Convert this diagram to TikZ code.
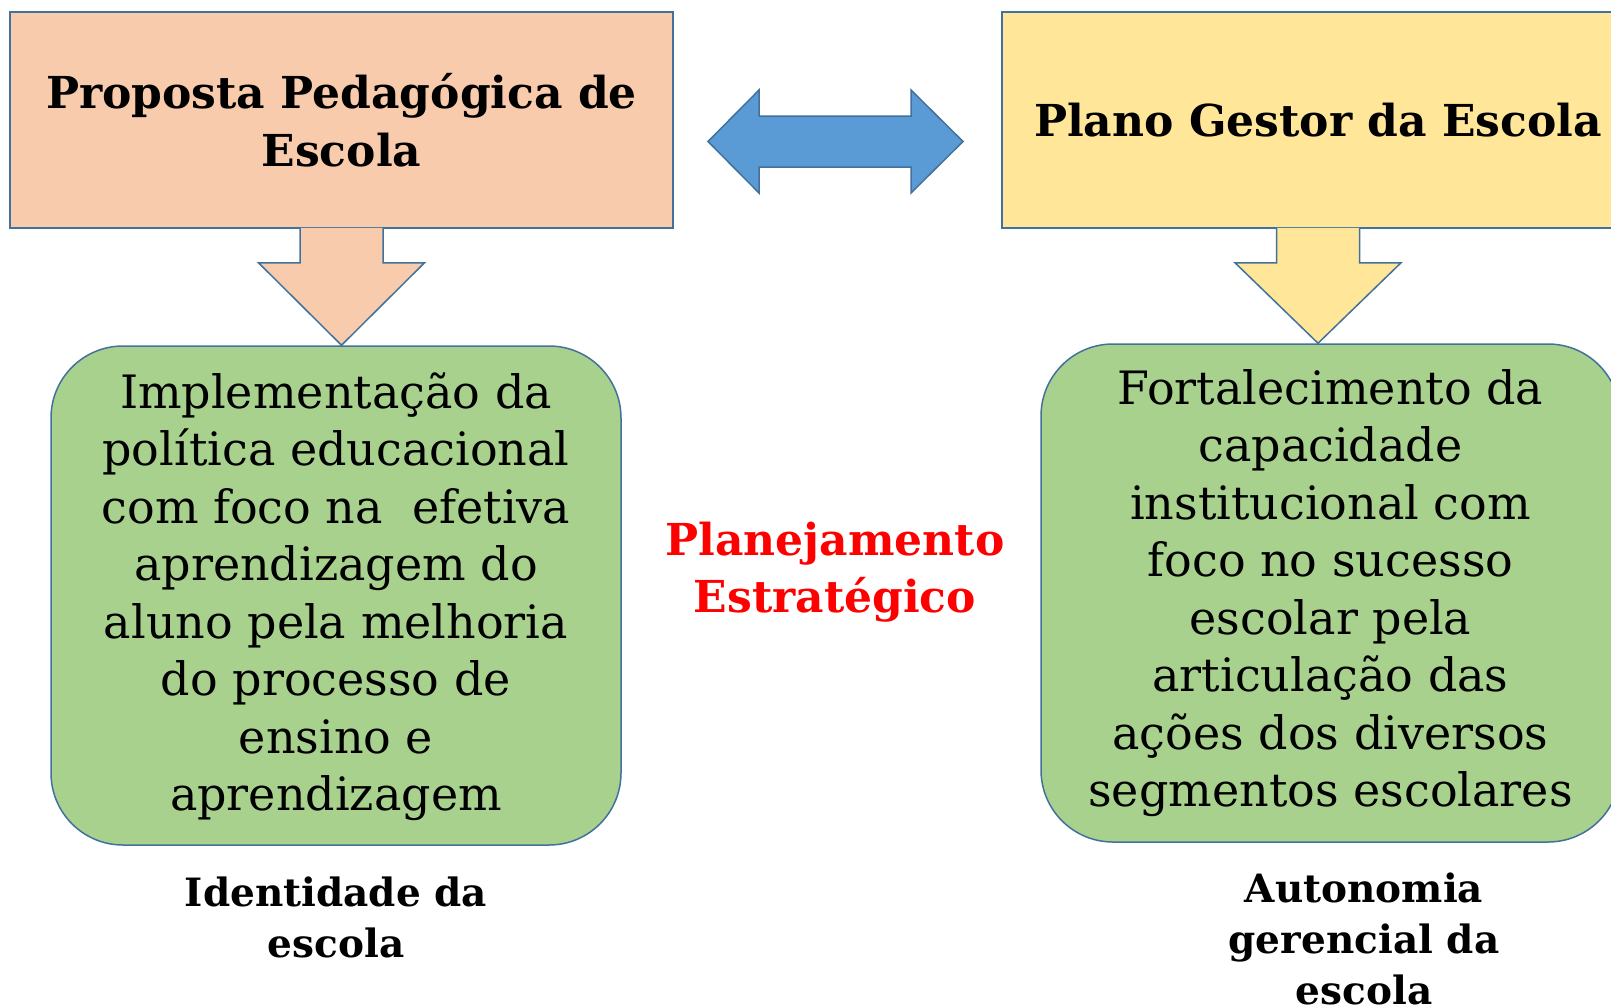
\documentclass[tikz,border=0pt]{standalone}
\usepackage{fontspec}
\setmainfont{DejaVu Serif}
\usetikzlibrary{calc}
\definecolor{peach}{HTML}{F8CBAD}
\definecolor{sand}{HTML}{FFE699}
\definecolor{leaf}{HTML}{A9D18E}
\definecolor{sky}{HTML}{5B9BD5}
\definecolor{edgeblue}{HTML}{41719C}
\tikzset{
  headbox/.style={draw=edgeblue, line width=0.75pt, inner sep=0pt, align=center,
    font=\bfseries\fontsize{22}{29.25}\selectfont},
  bodybox/.style={draw=edgeblue, line width=0.75pt, fill=leaf, inner sep=0pt,
    align=center, rounded corners=36pt, font=\fontsize{23}{28.75}\selectfont},
  blockarrow/.style={draw=edgeblue, line width=0.75pt, line join=miter},
  caption/.style={align=center, font=\bfseries\fontsize{19.5}{25.5}\selectfont}
}
\begin{document}
\begin{tikzpicture}[x=0.5pt, y=-0.5pt]
  \clip (0,0) rectangle (1611,1007);
  \fill[white] (0,0) rectangle (1611,1007);
  % top boxes
  \node[headbox, fill=peach, minimum width=331.5pt, minimum height=108pt] (LT) at (341.5,120)
    {Proposta Pedagógica de\\Escola};
  \node[headbox, fill=sand, minimum width=316pt, minimum height=108pt] (RT) at (1318,120)
    {Plano Gestor da Escola};
  % green boxes
  \node[bodybox, minimum width=285pt, minimum height=249.5pt, text depth=4pt] (LG) at (336,595.5)
    {Implementação da\\política educacional\\com foco na\ \ efetiva\\aprendizagem do\\aluno pela melhoria\\do processo de\\ensino e\\aprendizagem};
  \node[bodybox, minimum width=289.5pt, minimum height=249pt] (RG) at (1330.5,593)
    {Fortalecimento da\\capacidade\\institucional com\\foco no sucesso\\escolar pela\\articulação das\\ações dos diversos\\segmentos escolares};
  % down arrows
  \draw[blockarrow, fill=peach] ($(LT.south)+(-41.5,-1)$) -- ($(LT.south)+(-41.5,34)$)
    -- ($(LT.south)+(-83,34)$) -- (LT.south |- LG.north) -- ($(LT.south)+(83,34)$)
    -- ($(LT.south)+(41.5,34)$) -- ($(LT.south)+(41.5,-1)$);
  \draw[blockarrow, fill=sand] ($(RT.south)+(-41.5,-1)$) -- ($(RT.south)+(-41.5,34)$)
    -- ($(RT.south)+(-83,34)$) -- (RT.south |- RG.north) -- ($(RT.south)+(83,34)$)
    -- ($(RT.south)+(41.5,34)$) -- ($(RT.south)+(41.5,-1)$);
  % double arrow
  \coordinate (DA) at (835.5,141.5);
  \draw[blockarrow, fill=sky] ($(DA)+(-127.5,0)$) -- ($(DA)+(-76.5,-51.5)$) -- ($(DA)+(-76.5,-25.5)$)
    -- ($(DA)+(75.5,-25.5)$) -- ($(DA)+(75.5,-51.5)$) -- ($(DA)+(127.5,0)$)
    -- ($(DA)+(75.5,51.5)$) -- ($(DA)+(75.5,25.5)$) -- ($(DA)+(-76.5,25.5)$)
    -- ($(DA)+(-76.5,51.5)$) -- cycle;
  % labels
  \node[align=center, text=red, font=\bfseries\fontsize{22}{28.5}\selectfont] (PE) at (835,572)
    {Planejamento\\Estratégico};
  \node[caption] (ID) at (336,917.5) {Identidade da\\escola};
  \node[caption] (AU) at (1364,939) {Autonomia\\gerencial da\\escola};
\end{tikzpicture}
\end{document}
